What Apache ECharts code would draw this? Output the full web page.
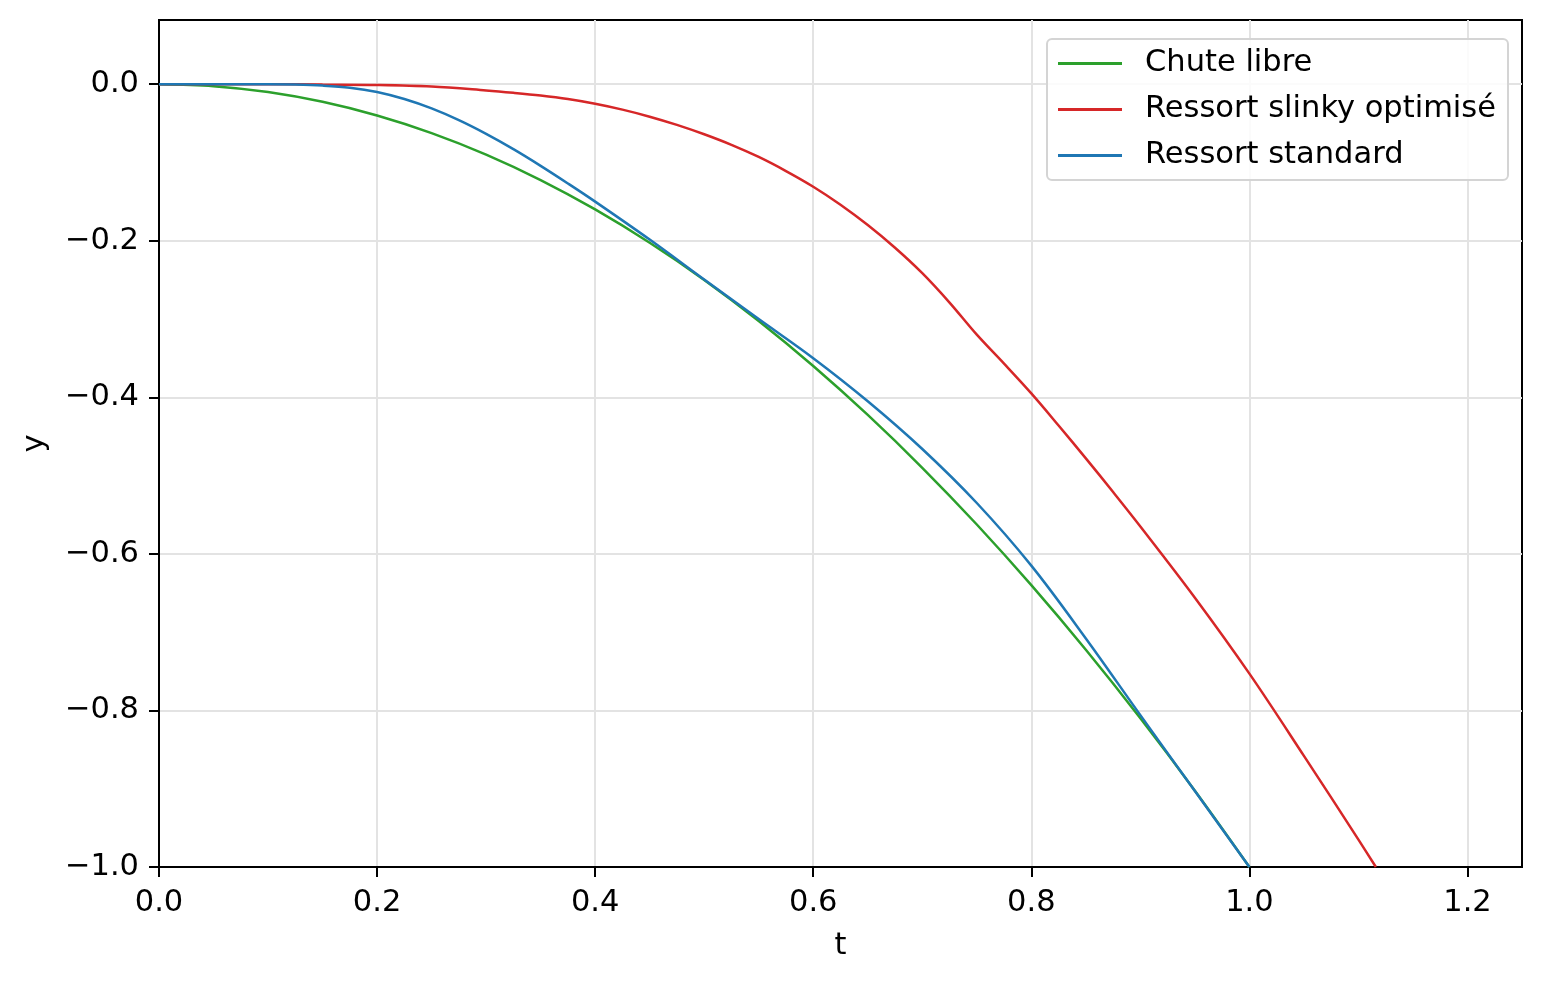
<!DOCTYPE html>
<html><head><meta charset="utf-8">
<script src="https://cdn.jsdelivr.net/npm/echarts@6/dist/echarts.min.js"></script>
<style>html,body{margin:0;padding:0;background:#fff}#c{width:1544px;height:982px}</style>
</head><body><div id="c"></div>
<script>
// Chute libre
const tFree = [0,0.05,0.1,0.15,0.2,0.25,0.3,0.35,0.4,0.45,0.5,0.55,0.6,0.65,0.7,0.75,0.8,0.85,0.9,0.95,1.0];
const yFree = [0,-0.0025,-0.01,-0.0225,-0.04,-0.0625,-0.09,-0.1225,-0.16,-0.2025,-0.25,-0.3025,-0.36,-0.4225,-0.49,-0.5625,-0.64,-0.7225,-0.81,-0.9025,-1.0];
// Ressort slinky optimisé
const tSlinky = [0,0.05,0.1,0.15,0.2,0.25,0.3,0.325,0.35,0.375,0.4,0.425,0.45,0.475,0.5,0.525,0.55,0.575,0.6,0.625,0.65,0.675,0.7,0.725,0.75,0.775,0.8,0.825,0.85,0.875,0.9,0.95,1.0,1.05,1.1,1.116];
const ySlinky = [0,0,0,-0.0005,-0.001,-0.003,-0.008,-0.011,-0.0145,-0.019,-0.025,-0.0325,-0.0415,-0.052,-0.064,-0.0775,-0.093,-0.111,-0.131,-0.154,-0.180,-0.209,-0.2415,-0.279,-0.320,-0.357,-0.395,-0.436,-0.478,-0.521,-0.565,-0.656,-0.753,-0.858,-0.965,-1.0];
// Ressort standard
const tStd = [0,0.05,0.1,0.125,0.15,0.175,0.2,0.225,0.25,0.275,0.3,0.325,0.35,0.375,0.4,0.45,0.5,0.55,0.6,0.65,0.7,0.75,0.8,0.85,0.9,0.95,1.0];
const yStd = [0,0,0,-0.0005,-0.0018,-0.0045,-0.010,-0.019,-0.031,-0.046,-0.0635,-0.083,-0.1043,-0.1268,-0.150,-0.1985,-0.2495,-0.300,-0.350,-0.405,-0.466,-0.535,-0.615,-0.708,-0.806,-0.903,-1.0];

const xTicks = [0,0.2,0.4,0.6,0.8,1.0,1.2];
const yTicks = [-1.0,-0.8,-0.6,-0.4,-0.2,0.0];
const seriesNames = ['Chute libre','Ressort slinky optimisé','Ressort standard'];

function pairs(t,y){return t.map((v,i)=>[v,y[i]]);}
const FONT = 'DejaVu Sans';
const FS = 30.5;
const fmtY = v => (v < -1e-9 ? '\u2212' : '') + Math.abs(v).toFixed(1);

const chart = echarts.init(document.getElementById('c'), null, {renderer:'canvas'});
chart.setOption({
  animation:false,
  backgroundColor:'#fff',
  grid:{left:159,right:22,top:20,bottom:115,show:true,borderColor:'#000',borderWidth:2,backgroundColor:'transparent'},
  xAxis:{
    type:'value',min:0,max:1.25,interval:0.2,
    name:'t',nameLocation:'middle',nameGap:64,
    nameTextStyle:{fontFamily:FONT,fontSize:FS,color:'#000'},
    axisLine:{show:true,onZero:false,lineStyle:{color:'#000',width:2}},
    axisTick:{show:true,length:10,inside:false,customValues:xTicks,lineStyle:{color:'#000',width:2}},
    axisLabel:{customValues:xTicks,margin:21,fontFamily:FONT,fontSize:FS,color:'#000',formatter:v=>v.toFixed(1)},
    splitLine:{show:true,lineStyle:{color:'#e3e3e3',width:2}}
  },
  yAxis:{
    type:'value',min:-1,max:0.082,interval:0.2,
    name:'y',nameLocation:'middle',nameGap:108,nameRotate:90,
    nameTextStyle:{fontFamily:FONT,fontSize:FS,color:'#000'},
    axisLine:{show:true,onZero:false,lineStyle:{color:'#000',width:2}},
    axisTick:{show:true,length:10,inside:false,customValues:yTicks,lineStyle:{color:'#000',width:2}},
    axisLabel:{customValues:yTicks,margin:20,fontFamily:FONT,fontSize:FS,color:'#000',formatter:fmtY},
    splitLine:{show:true,lineStyle:{color:'#e3e3e3',width:2}}
  },
  legend:{
    orient:'vertical',left:1047,top:39,padding:[9,12,9,11],
    itemWidth:64,itemHeight:3,icon:'rect',itemGap:15,
    backgroundColor:'rgba(255,255,255,0.85)',borderColor:'#d4d4d4',borderWidth:2,borderRadius:5,
    textStyle:{fontFamily:FONT,fontSize:FS,color:'#000',padding:[0,0,0,18],lineHeight:31},
    data:seriesNames
  },
  series:[
    {name:seriesNames[0],type:'line',data:pairs(tFree,yFree),color:'#2ca02c',symbol:'none',smooth:0.35,lineStyle:{width:2.5}},
    {name:seriesNames[1],type:'line',data:pairs(tSlinky,ySlinky),color:'#d62728',symbol:'none',smooth:0.35,lineStyle:{width:2.5}},
    {name:seriesNames[2],type:'line',data:pairs(tStd,yStd),color:'#1f77b4',symbol:'none',smooth:0.35,lineStyle:{width:2.5}}
  ]
});
</script>
</body></html>
